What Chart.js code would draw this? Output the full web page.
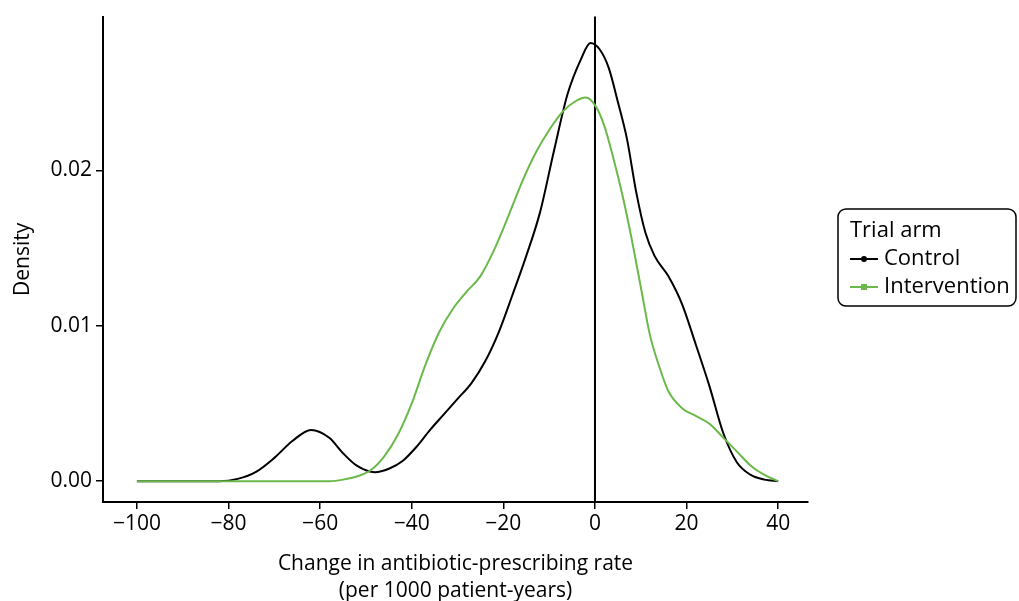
<!DOCTYPE html>
<html lang="en">
<head>
    <meta charset="UTF-8">
    <script src="https://cdn.jsdelivr.net/npm/chart.js@4.4.0/dist/chart.umd.min.js"></script>
    <title>Density by trial arm</title>
    <style>
        html, body { margin: 0; padding: 0; background: #fff; }
        #wrap { position: relative; width: 1019px; height: 601px; }
    </style>
</head>
<body>
<div id="wrap"><canvas id="myChart" width="1019" height="601"></canvas></div>
<script>
    // x ticks and y ticks
    var xTicks = [-100, -80, -60, -40, -20, 0, 20, 40];
    var yTicks = [0, 0.01, 0.02];

    // Control arm density
    var controlX = [-100, -82, -78, -74, -70, -66, -62, -58, -55, -52, -48, -45, -42, -39, -36, -33, -30, -27, -24, -21, -18, -15, -12, -9, -6, -3, -1, 1, 3, 5, 7, 9, 11, 13, 16, 19, 22, 25, 28, 31, 34, 37, 40];
    var controlY = [0, 0, 0.00015, 0.0006, 0.0015, 0.0026, 0.0033, 0.0028, 0.0018, 0.0010, 0.00058, 0.0008, 0.0013, 0.0022, 0.0033, 0.0043, 0.0053, 0.0063, 0.0077, 0.0096, 0.0120, 0.0145, 0.0173, 0.0212, 0.0249, 0.0272, 0.0282, 0.0278, 0.0266, 0.0244, 0.0220, 0.0186, 0.0160, 0.0145, 0.0132, 0.0114, 0.0088, 0.0061, 0.0031, 0.0012, 0.0004, 0.0001, 0];

    // Intervention arm density
    var interventionX = [-100, -58, -55, -52, -49, -46, -43, -40, -37, -34, -31, -28, -25, -22, -19, -16, -13, -10, -7, -4, -2, 0, 2, 4, 6, 8, 10, 12, 14, 16, 19, 22, 25, 28, 31, 34, 37, 40];
    var interventionY = [0, 0, 0.0001, 0.0003, 0.0007, 0.0016, 0.0030, 0.0050, 0.0075, 0.0096, 0.0111, 0.0122, 0.0132, 0.0149, 0.0170, 0.0192, 0.0211, 0.0226, 0.0238, 0.0245, 0.0247, 0.0242, 0.0229, 0.0208, 0.0184, 0.0156, 0.0125, 0.0094, 0.0074, 0.0058, 0.0047, 0.0042, 0.0037, 0.0028, 0.0019, 0.0010, 0.0004, 0];

    var FONT = "'Open Sans', 'Noto Sans', sans-serif";
    var GREEN = '#6ab94a';

    function pts(xs, ys) {
        return xs.map(function (x, i) { return {x: x, y: ys[i]}; });
    }

    // vertical reference line at x = 0
    var zeroLine = {
        id: 'zeroLine',
        beforeDatasetsDraw: function (chart) {
            var c = chart.ctx, a = chart.chartArea;
            var px = chart.scales.x.getPixelForValue(0);
            c.save();
            c.strokeStyle = '#000';
            c.lineWidth = 2;
            c.beginPath();
            c.moveTo(px, a.top);
            c.lineTo(px, a.bottom);
            c.stroke();
            c.restore();
        }
    };

    // legend box on the right
    var boxLegend = {
        id: 'boxLegend',
        afterDraw: function (chart) {
            var c = chart.ctx;
            var x0 = 838, y0 = 209, w = 178, h = 97, r = 8;
            c.save();
            c.strokeStyle = '#000';
            c.lineWidth = 1.5;
            c.beginPath();
            c.roundRect(x0, y0, w, h, r);
            c.stroke();
            c.fillStyle = '#000';
            c.font = '22px ' + FONT;
            c.textBaseline = 'middle';
            c.fillText('Trial arm', 850, 231);
            var items = [
                {label: 'Control', color: '#000', shape: 'circle', y: 259},
                {label: 'Intervention', color: GREEN, shape: 'square', y: 287}
            ];
            items.forEach(function (it) {
                c.strokeStyle = it.color;
                c.fillStyle = it.color;
                c.lineWidth = 2;
                c.beginPath();
                c.moveTo(850, it.y);
                c.lineTo(878, it.y);
                c.stroke();
                if (it.shape === 'circle') {
                    c.beginPath();
                    c.arc(864, it.y, 3, 0, Math.PI * 2);
                    c.fill();
                } else {
                    c.fillRect(861, it.y - 3, 6, 6);
                }
                c.fillStyle = '#000';
                c.fillText(it.label, 884, it.y);
            });
            c.restore();
        }
    };

    var ctx = document.getElementById('myChart').getContext('2d');
    var chart = new Chart(ctx, {
        type: 'line',
        data: {
            datasets: [{
                label: 'Intervention',
                data: pts(interventionX, interventionY),
                borderColor: GREEN,
                borderWidth: 2,
                pointRadius: 0,
                fill: false,
                cubicInterpolationMode: 'monotone'
            }, {
                label: 'Control',
                data: pts(controlX, controlY),
                borderColor: '#000',
                borderWidth: 2,
                pointRadius: 0,
                fill: false,
                cubicInterpolationMode: 'monotone'
            }]
        },
        options: {
            responsive: false,
            animation: false,
            layout: {padding: {left: 0, right: 211, top: 10, bottom: 0}},
            plugins: {legend: {display: false}, tooltip: {enabled: false}},
            scales: {
                x: {
                    type: 'linear',
                    min: -107.4,
                    max: 46.5,
                    afterBuildTicks: function (s) { s.ticks = xTicks.map(function (v) { return {value: v}; }); },
                    afterFit: function (s) { s.height = 99; },
                    grid: {drawOnChartArea: false, drawTicks: true, tickLength: 7, color: '#000', lineWidth: 1.5},
                    border: {display: true, color: '#000', width: 2},
                    ticks: {
                        color: '#000',
                        font: {family: FONT, size: 21},
                        padding: 2,
                        maxRotation: 0,
                        callback: function (v) { return v < 0 ? '\u2212' + Math.abs(v) : String(v); }
                    },
                    title: {
                        display: true,
                        text: ['Change in antibiotic-prescribing rate', '(per 1000 patient-years)'],
                        color: '#000',
                        font: {family: FONT, size: 21, lineHeight: 1.3},
                        padding: {top: 0, bottom: -4}
                    }
                },
                y: {
                    type: 'linear',
                    min: -0.00134,
                    max: 0.0299,
                    afterBuildTicks: function (s) { s.ticks = yTicks.map(function (v) { return {value: v}; }); },
                    afterFit: function (s) { s.width = 103; },
                    grid: {drawOnChartArea: false, drawTicks: true, tickLength: 7, color: '#000', lineWidth: 1.5},
                    border: {display: true, color: '#000', width: 2},
                    ticks: {
                        color: '#000',
                        font: {family: FONT, size: 21},
                        padding: 4,
                        callback: function (v) { return v.toFixed(2); }
                    },
                    title: {
                        display: true,
                        text: 'Density',
                        color: '#000',
                        font: {family: FONT, size: 21},
                        padding: {top: 10, bottom: 0}
                    }
                }
            }
        },
        plugins: [zeroLine, boxLegend]
    });
</script>
</body>
</html>
